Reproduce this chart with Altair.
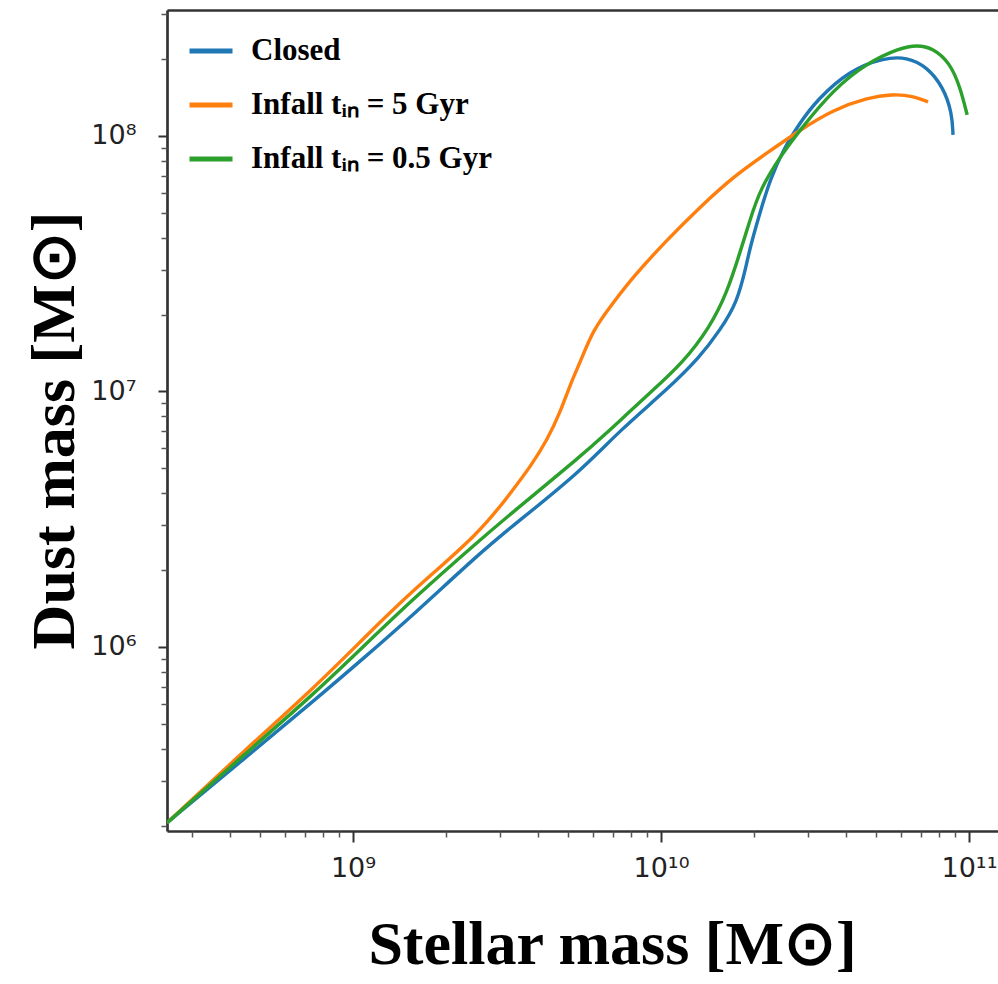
import altair as alt
import pandas as pd

# ---- data (stellar mass, dust mass in solar masses) ----
closed_x = [2.49e8, 4.46e8, 7.53e8, 1.094e9, 1.567e9, 2.58e9, 3.30e9, 5.46e9,
            7.36e9, 1.045e10, 1.340e10, 1.556e10, 1.766e10, 1.901e10, 1.945e10, 2.094e10, 2.259e10,
            2.489e10, 2.825e10, 3.206e10, 4.111e10, 5.260e10, 6.295e10, 7.311e10, 8.241e10, 8.810e10, 8.872e10]
closed_y = [2.05e5, 3.68e5, 6.21e5, 9.14e5, 1.334e6, 2.33e6, 2.98e6, 4.84e6,
            7.06e6, 1.014e7, 1.365e7, 1.742e7, 2.218e7, 3.184e7, 3.648e7, 5.0e7, 6.73e7,
            8.81e7, 1.125e8, 1.384e8, 1.811e8, 2.018e8, 2.037e8, 1.862e8, 1.556e8, 1.230e8, 1.009e8]

infall5_x = [2.49e8, 4.46e8, 7.53e8, 1.094e9, 1.567e9, 2.58e9, 3.30e9, 3.76e9, 4.27e9, 4.70e9,
             5.14e9, 5.46e9, 6.01e9, 6.98e9, 8.11e9, 1.045e10, 1.340e10, 1.714e10, 2.208e10,
             2.825e10, 3.614e10, 4.667e10, 5.662e10, 6.577e10, 7.362e10]
infall5_y = [2.05e5, 3.95e5, 6.97e5, 1.094e6, 1.671e6, 2.79e6, 4.11e6, 5.06e6, 6.46e6, 8.24e6,
             1.109e7, 1.294e7, 1.742e7, 2.218e7, 2.805e7, 3.917e7, 5.272e7, 6.918e7, 8.57e7,
             1.054e8, 1.265e8, 1.409e8, 1.459e8, 1.435e8, 1.358e8]

infall05_x = [2.49e8, 4.46e8, 7.53e8, 1.094e9, 1.567e9, 2.58e9, 3.30e9, 5.46e9,
              6.82e9, 7.82e9, 9.20e9, 1.178e10, 1.442e10, 1.637e10, 1.803e10, 1.945e10, 2.094e10,
              2.432e10, 2.825e10, 3.614e10, 4.667e10, 5.970e10, 6.776e10, 7.638e10, 8.670e10, 9.354e10, 9.863e10]
infall05_y = [2.05e5, 3.81e5, 6.61e5, 1.019e6, 1.542e6, 2.62e6, 3.37e6, 5.55e6,
              7.06e6, 8.24e6, 9.86e6, 1.294e7, 1.786e7, 2.432e7, 3.483e7, 4.688e7, 6.15e7,
              8.28e7, 1.054e8, 1.514e8, 1.932e8, 2.208e8, 2.270e8, 2.208e8, 1.932e8, 1.556e8, 1.208e8]

series_names = ["Closed", "Infall tᵢₙ = 5 Gyr", "Infall tᵢₙ = 0.5 Gyr"]
series_colors = ["#1f77b4", "#ff7f0e", "#2ca02c"]

x_domain = [2.49e8, 1.242e11]
y_domain = [1.905e5, 3.11e8]

major_x = [1e9, 1e10, 1e11]
minor_x = [3e8, 4e8, 5e8, 6e8, 7e8, 8e8, 9e8,
           2e9, 3e9, 4e9, 5e9, 6e9, 7e9, 8e9, 9e9,
           2e10, 3e10, 4e10, 5e10, 6e10, 7e10, 8e10, 9e10]
major_y = [1e6, 1e7, 1e8]
minor_y = [2e5, 3e5, 4e5, 5e5, 6e5, 7e5, 8e5, 9e5,
           2e6, 3e6, 4e6, 5e6, 6e6, 7e6, 8e6, 9e6,
           2e7, 3e7, 4e7, 5e7, 6e7, 7e7, 8e7, 9e7,
           2e8, 3e8]

rows = []
for name, xs, ys in zip(series_names, [closed_x, infall5_x, infall05_x], [closed_y, infall5_y, infall05_y]):
    for i, (xv, yv) in enumerate(zip(xs, ys)):
        rows.append({"series": name, "mstar": xv, "mdust": yv, "idx": i})
df = pd.DataFrame(rows)

W, H = 831, 821
xscale = alt.Scale(type="log", domain=x_domain, nice=False, zero=False)
yscale = alt.Scale(type="log", domain=y_domain, nice=False, zero=False)

label_expr = ("datum.value >= 1e11 ? '10¹¹' : datum.value >= 1e10 ? '10¹⁰' : "
              "datum.value >= 1e9 ? '10⁹' : datum.value >= 1e8 ? '10⁸' : "
              "datum.value >= 1e7 ? '10⁷' : '10⁶'")

AX = "#333333"

lines = alt.Chart(df).mark_line(strokeWidth=3.4, interpolate="basis", clip=True).encode(
    x=alt.X("mstar:Q", scale=xscale, axis=alt.Axis(
        orient="bottom", values=major_x, tickSize=11, tickWidth=2, tickColor=AX,
        domainColor=AX, domainWidth=2.7, labelExpr=label_expr, labelFont="DejaVu Sans",
        labelFontSize=27, labelColor="#222222", labelPadding=13, grid=False,
        title="Stellar mass [M⊙]", titleFont="Liberation Serif", titleFontSize=62,
        titleFontWeight="bold", titleColor="black", titleX=445, titleY=132,
        titleAlign="center", titleBaseline="alphabetic")),
    y=alt.Y("mdust:Q", scale=yscale, axis=alt.Axis(
        orient="left", values=major_y, tickSize=9, tickWidth=2, tickColor=AX,
        domainColor=AX, domainWidth=2.7, labelExpr=label_expr, labelFont="DejaVu Sans",
        labelFontSize=27, labelColor="#222222", labelPadding=22, grid=False,
        title="Dust mass [M⊙]", titleFont="Liberation Serif", titleFontSize=62,
        titleFontWeight="bold", titleColor="black", titleX=-94, titleY=420,
        titleAlign="center", titleBaseline="alphabetic", titleAngle=270)),
    color=alt.Color("series:N", scale=alt.Scale(domain=series_names, range=series_colors),
                    legend=alt.Legend(title=None, orient="none", legendX=20, legendY=17,
                                      symbolType="stroke", symbolSize=1849, symbolStrokeWidth=5,
                                      labelFont="Liberation Serif", labelFontSize=31,
                                      labelFontWeight="bold", labelColor="black", labelLimit=0,
                                      labelOffset=16, rowPadding=15, padding=0)),
    order="idx:Q",
)

minor = alt.Chart(df).mark_line(opacity=0).encode(
    x=alt.X("mstar:Q", scale=xscale, axis=alt.Axis(
        orient="bottom", values=minor_x, tickSize=6, tickWidth=1.5, tickColor="#555555",
        domain=False, labels=False, grid=False, title=None)),
    y=alt.Y("mdust:Q", scale=yscale, axis=alt.Axis(
        orient="left", values=minor_y, tickSize=6, tickWidth=1.5, tickColor="#555555",
        domain=False, labels=False, grid=False, title=None)),
    detail="series:N",
)

top = alt.Chart(df).mark_line(opacity=0).encode(
    x=alt.X("mstar:Q", scale=xscale, axis=alt.Axis(
        orient="top", ticks=False, labels=False, domainColor=AX, domainWidth=2.7,
        grid=False, title=None)),
    y=alt.Y("mdust:Q", scale=yscale, axis=None),
    detail="series:N",
)

chart = alt.layer(lines, minor, top).resolve_axis(
    x="independent", y="independent"
).properties(
    width=W, height=H,
    autosize=alt.AutoSizeParams(type="none"),
    padding={"left": 167, "top": 10, "right": 0, "bottom": 153},
).configure_view(stroke=None).configure(background="white")

chart.save("out.html", embed_options={"renderer": "svg", "actions": False})
